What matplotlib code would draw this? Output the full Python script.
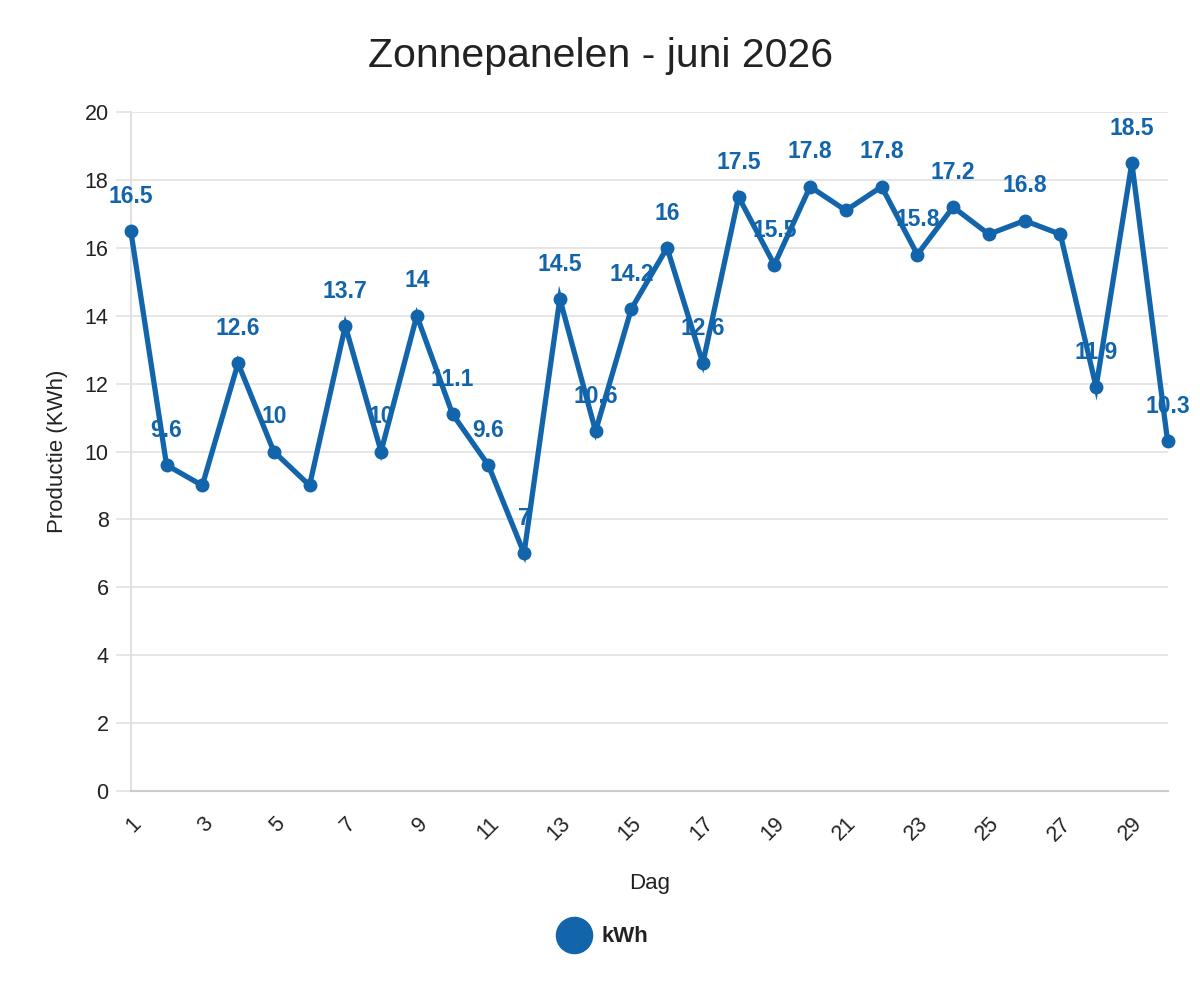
import matplotlib
matplotlib.use("Agg")
import matplotlib.pyplot as plt
from matplotlib.lines import Line2D

days = list(range(1, 31))
kwh = [16.5, 9.6, 9.0, 12.6, 10, 9.0, 13.7, 10, 14, 11.1,
       9.6, 7, 14.5, 10.6, 14.2, 16, 12.6, 17.5, 15.5, 17.8,
       17.1, 17.8, 15.8, 17.2, 16.4, 16.8, 16.4, 11.9, 18.5, 10.3]
hidden_label_days = [3, 6, 21, 25, 27]
x_tick_days = list(range(1, 30, 2))
y_ticks = list(range(0, 21, 2))

title = "Zonnepanelen - juni 2026"
x_title = "Dag"
y_title = "Productie (KWh)"
series_name = "kWh"

blue = "#1264ab"
grid_c = "#e1e1e1"
txt_c = "#222222"

plt.rcParams['font.family'] = ['Liberation Sans', 'DejaVu Sans']

fig = plt.figure(figsize=(12, 10), dpi=100)
ax = fig.add_axes([0.109, 0.209, 0.864, 0.679])

ax.plot(days, kwh, color=blue, lw=3.8, marker='o', ms=9, zorder=5,
        solid_joinstyle='miter', clip_on=False)

for d, v in zip(days, kwh):
    if d in hidden_label_days:
        continue
    ax.annotate(f"{v:g}", (d, v), xytext=(0, 25), textcoords='offset points',
                ha='center', va='center', fontsize=16.5, fontweight='bold',
                color=blue, zorder=3, annotation_clip=False)

ax.set_xlim(1, 30)
ax.set_ylim(0, 20)
ax.set_yticks(y_ticks)
ax.set_xticks(x_tick_days)
ax.set_xticklabels([str(d) for d in x_tick_days], rotation=45, ha='right',
                   rotation_mode='anchor', fontsize=15.5, color=txt_c)
ax.tick_params(axis='y', labelsize=15.5, labelcolor=txt_c, length=11,
               color=grid_c, width=1.2, pad=5)
ax.tick_params(axis='x', length=0, pad=16)
ax.grid(axis='y', color=grid_c, lw=1.2)
ax.set_axisbelow(True)
for s in ['top', 'right']:
    ax.spines[s].set_visible(False)
ax.spines['left'].set_color(grid_c)
ax.spines['left'].set_linewidth(1.5)
ax.spines['bottom'].set_color("#cccccc")
ax.spines['bottom'].set_linewidth(1.5)

ax.set_xlabel(x_title, fontsize=16, color=txt_c, labelpad=20)
ax.set_ylabel(y_title, fontsize=16, color=txt_c, labelpad=12)
fig.text(0.5, 0.933, title, ha='center', va='baseline', fontsize=29.5, color=txt_c)

handle = Line2D([], [], color=blue, marker='o', ls='none', ms=26)
fig.legend([handle], [series_name], loc='center', bbox_to_anchor=(0.5, 0.063),
           frameon=False, prop={'weight': 'bold', 'size': 16},
           handletextpad=0.2, labelcolor=txt_c)

fig.savefig("out.png", dpi=100)
